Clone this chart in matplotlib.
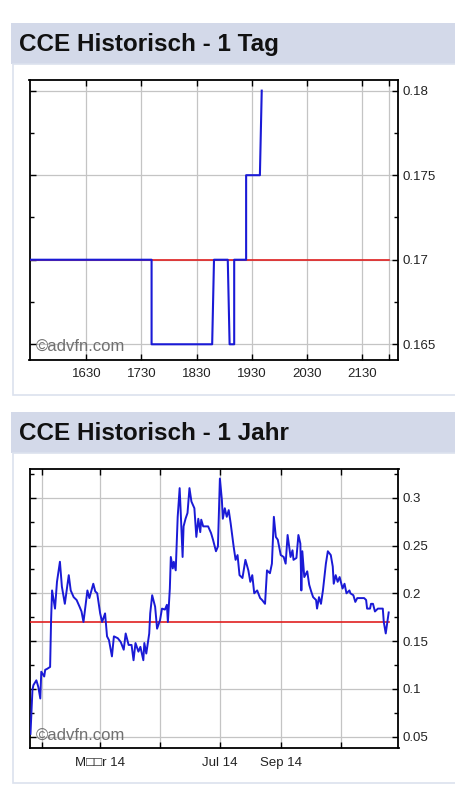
import numpy as np
import pandas as pd
import matplotlib
matplotlib.use("Agg")
import matplotlib.pyplot as plt
import matplotlib.dates as mdates
from matplotlib.patches import Rectangle
from matplotlib.ticker import FixedLocator, MultipleLocator

plt.rcParams['font.family'] = ['Liberation Sans', 'DejaVu Sans']

# 1 Tag
day_times = ["15:28", "17:41", "17:41", "18:47", "18:49", "19:04", "19:06",
             "19:11", "19:11", "19:24", "19:24", "19:39", "19:41"]
day_prices = [0.17, 0.17, 0.165, 0.165, 0.17, 0.17, 0.165,
              0.165, 0.17, 0.17, 0.175, 0.175, 0.18]
day_ref = 0.17
day_ticks = ["16:30", "17:30", "18:30", "19:30", "20:30", "21:30", "22:00"]
day_tick_labels = ["1630", "1730", "1830", "1930", "2030", "2130", ""]
day_yticks = [0.165, 0.17, 0.175, 0.18]

# 1 Jahr
year_dates = [
    "2013-12-20", "2013-12-22", "2013-12-23", "2013-12-26", "2013-12-28", "2013-12-30",
    "2013-12-31", "2014-01-03", "2014-01-04", "2014-01-06", "2014-01-09", "2014-01-10",
    "2014-01-11", "2014-01-14", "2014-01-16", "2014-01-19", "2014-01-21", "2014-01-24",
    "2014-01-28", "2014-01-30", "2014-02-02", "2014-02-05", "2014-02-08", "2014-02-10",
    "2014-02-12", "2014-02-16", "2014-02-18", "2014-02-22", "2014-02-24", "2014-02-26",
    "2014-03-01", "2014-03-03", "2014-03-06", "2014-03-08", "2014-03-10", "2014-03-13",
    "2014-03-15", "2014-03-19", "2014-03-22", "2014-03-25", "2014-03-27", "2014-03-30",
    "2014-04-02", "2014-04-04", "2014-04-06", "2014-04-09", "2014-04-11", "2014-04-14",
    "2014-04-15", "2014-04-17", "2014-04-20", "2014-04-21", "2014-04-23", "2014-04-26",
    "2014-04-28", "2014-05-01", "2014-05-03", "2014-05-06", "2014-05-08", "2014-05-09",
    "2014-05-11", "2014-05-12", "2014-05-14", "2014-05-15", "2014-05-17", "2014-05-19",
    "2014-05-21", "2014-05-22", "2014-05-24", "2014-05-25", "2014-05-27", "2014-05-29",
    "2014-05-31", "2014-06-02", "2014-06-05", "2014-06-07", "2014-06-09", "2014-06-11",
    "2014-06-12", "2014-06-14", "2014-06-17", "2014-06-19", "2014-06-22", "2014-06-24",
    "2014-06-27", "2014-06-29", "2014-07-01", "2014-07-03", "2014-07-04", "2014-07-06",
    "2014-07-08", "2014-07-10", "2014-07-12", "2014-07-15", "2014-07-17", "2014-07-19",
    "2014-07-21", "2014-07-24", "2014-07-27", "2014-07-30", "2014-08-01", "2014-08-03",
    "2014-08-05", "2014-08-08", "2014-08-11", "2014-08-13", "2014-08-16", "2014-08-18",
    "2014-08-21", "2014-08-23", "2014-08-25", "2014-08-27", "2014-08-29", "2014-09-01",
    "2014-09-04", "2014-09-06", "2014-09-08", "2014-09-11", "2014-09-13", "2014-09-14",
    "2014-09-17", "2014-09-19", "2014-09-21", "2014-09-22", "2014-09-23", "2014-09-25",
    "2014-09-28", "2014-09-30", "2014-10-02", "2014-10-04", "2014-10-07", "2014-10-08",
    "2014-10-10", "2014-10-12", "2014-10-14", "2014-10-17", "2014-10-19", "2014-10-22",
    "2014-10-24", "2014-10-25", "2014-10-27", "2014-10-29", "2014-10-31", "2014-11-03",
    "2014-11-05", "2014-11-07", "2014-11-10", "2014-11-11", "2014-11-14", "2014-11-16",
    "2014-11-18", "2014-11-22", "2014-11-25", "2014-11-27", "2014-11-28", "2014-12-01",
    "2014-12-02", "2014-12-04", "2014-12-06", "2014-12-09", "2014-12-12", "2014-12-14",
    "2014-12-15", "2014-12-17", "2014-12-20",
]
year_prices = [
    0.053, 0.099, 0.104, 0.109, 0.102, 0.090,
    0.118, 0.113, 0.120, 0.121, 0.123, 0.172,
    0.203, 0.184, 0.212, 0.233, 0.207, 0.189,
    0.219, 0.203, 0.196, 0.193, 0.186, 0.181,
    0.170, 0.203, 0.195, 0.210, 0.202, 0.200,
    0.179, 0.170, 0.179, 0.155, 0.151, 0.134,
    0.155, 0.153, 0.149, 0.141, 0.158, 0.146,
    0.146, 0.130, 0.148, 0.139, 0.144, 0.130,
    0.148, 0.137, 0.158, 0.179, 0.198, 0.186,
    0.163, 0.172, 0.184, 0.183, 0.188, 0.170,
    0.205, 0.238, 0.226, 0.233, 0.224, 0.280,
    0.310, 0.287, 0.238, 0.270, 0.278, 0.284,
    0.310, 0.296, 0.289, 0.259, 0.278, 0.264,
    0.277, 0.270, 0.270, 0.270, 0.263, 0.256,
    0.244, 0.249, 0.320, 0.298, 0.278, 0.289,
    0.280, 0.287, 0.273, 0.249, 0.235, 0.240,
    0.219, 0.216, 0.235, 0.224, 0.212, 0.219,
    0.200, 0.203, 0.195, 0.193, 0.189, 0.224,
    0.221, 0.231, 0.280, 0.259, 0.256, 0.240,
    0.238, 0.231, 0.261, 0.238, 0.245, 0.235,
    0.237, 0.261, 0.252, 0.203, 0.244, 0.217,
    0.223, 0.209, 0.202, 0.196, 0.193, 0.184,
    0.196, 0.189, 0.203, 0.231, 0.244, 0.240,
    0.228, 0.210, 0.219, 0.212, 0.217, 0.205,
    0.210, 0.200, 0.203, 0.200, 0.198, 0.191,
    0.195, 0.195, 0.195, 0.193, 0.184, 0.184,
    0.189, 0.189, 0.181, 0.184, 0.184, 0.184,
    0.170, 0.158, 0.180,
]
year_ref = 0.17
year_ticks = ["2014-01-01", "2014-03-01", "2014-05-01", "2014-07-01", "2014-09-01", "2014-11-01"]
year_tick_labels = ["", "M\u25a1\u25a1r 14", "", "Jul 14", "Sep 14", ""]
year_yticks = [0.05, 0.1, 0.15, 0.2, 0.25, 0.3]
year_ylabels = ["0.05", "0.1", "0.15", "0.2", "0.25", "0.3"]

W, H = 456, 801
fig = plt.figure(figsize=(W / 100, H / 100), dpi=100)
fig.patch.set_facecolor("white")


def box(x0, y0, x1, y1):
    # pixel coords from top-left -> figure fraction
    return [x0 / W, 1 - y1 / H, (x1 - x0) / W, (y1 - y0) / H]


def frame(top, bottom, title):
    b = box(11, top, 460, top + 41)
    fig.patches.append(Rectangle((b[0], b[1]), b[2], b[3], transform=fig.transFigure,
                                 facecolor="#d3d9e9", edgecolor="none", zorder=-2))
    p = box(13, top + 41, 460, bottom)
    fig.patches.append(Rectangle((p[0], p[1]), p[2], p[3], transform=fig.transFigure,
                                 facecolor="white", edgecolor="#dce2ee", linewidth=1.2,
                                 zorder=-2))
    fig.text(19 / W, 1 - (top + 21) / H, title, fontsize=17.5, fontweight="bold",
             va="center", ha="left", color="#111111")


def style(ax):
    ax.set_facecolor("white")
    for s in ax.spines.values():
        s.set_linewidth(1.3)
        s.set_color("black")
    ax.grid(True, which="major", color="#c4c4c4", linewidth=0.9)
    ax.yaxis.tick_right()
    ax.tick_params(which="both", direction="in", top=True, bottom=True, left=True, right=True,
                   labelright=True, labelleft=False, labelsize=9.5, labelcolor="#222222",
                   length=4, width=1)
    ax.tick_params(axis="y", pad=3)
    ax.tick_params(axis="x", pad=6)
    ax.tick_params(which="minor", length=3)
    ax.text(0.018, 0.047, "\u00a9advfn.com", transform=ax.transAxes, fontsize=12,
            color="#707070", ha="left", va="center", zorder=5)


frame(23, 395, "CCE Historisch - 1 Tag")
frame(412, 783, "CCE Historisch - 1 Jahr")

# day chart
to_min = lambda t: int(t[:2]) * 60 + int(t[3:])
dx = [to_min(t) for t in day_times]
ax1 = fig.add_axes(box(29.5, 80, 398.5, 360))
style(ax1)
ax1.plot([dx[0], to_min("22:00")], [day_ref, day_ref], color="#e02020", linewidth=1.2, zorder=3)
ax1.plot(dx, day_prices, color="#1a1ad6", linewidth=1.5, zorder=4)
ax1.set_xlim(928, 1330)
ax1.set_ylim(0.16407, 0.18063)
ax1.xaxis.set_major_locator(FixedLocator([to_min(t) for t in day_ticks]))
ax1.set_xticklabels(day_tick_labels)
ax1.yaxis.set_major_locator(FixedLocator(day_yticks))
ax1.set_yticklabels(["0.165", "0.17", "0.175", "0.18"])
ax1.yaxis.set_minor_locator(MultipleLocator(0.0025))

# year chart
yd = pd.to_datetime(year_dates)
ax2 = fig.add_axes(box(29.5, 469.3, 398.5, 748.3))
style(ax2)
ax2.plot([yd[0], yd[-1]], [year_ref, year_ref], color="#e02020", linewidth=1.2, zorder=3)
ax2.plot(yd, year_prices, color="#1a1ad6", linewidth=1.4, zorder=4)
ax2.set_xlim(pd.Timestamp("2013-12-19"), pd.Timestamp("2014-12-30"))
ax2.set_ylim(0.0379, 0.3297)
ax2.xaxis.set_major_locator(FixedLocator(mdates.date2num(pd.to_datetime(year_ticks))))
ax2.set_xticklabels(year_tick_labels)
ax2.yaxis.set_major_locator(FixedLocator(year_yticks))
ax2.set_yticklabels(year_ylabels)
ax2.yaxis.set_minor_locator(MultipleLocator(0.025))

fig.savefig("out.png", dpi=100)
